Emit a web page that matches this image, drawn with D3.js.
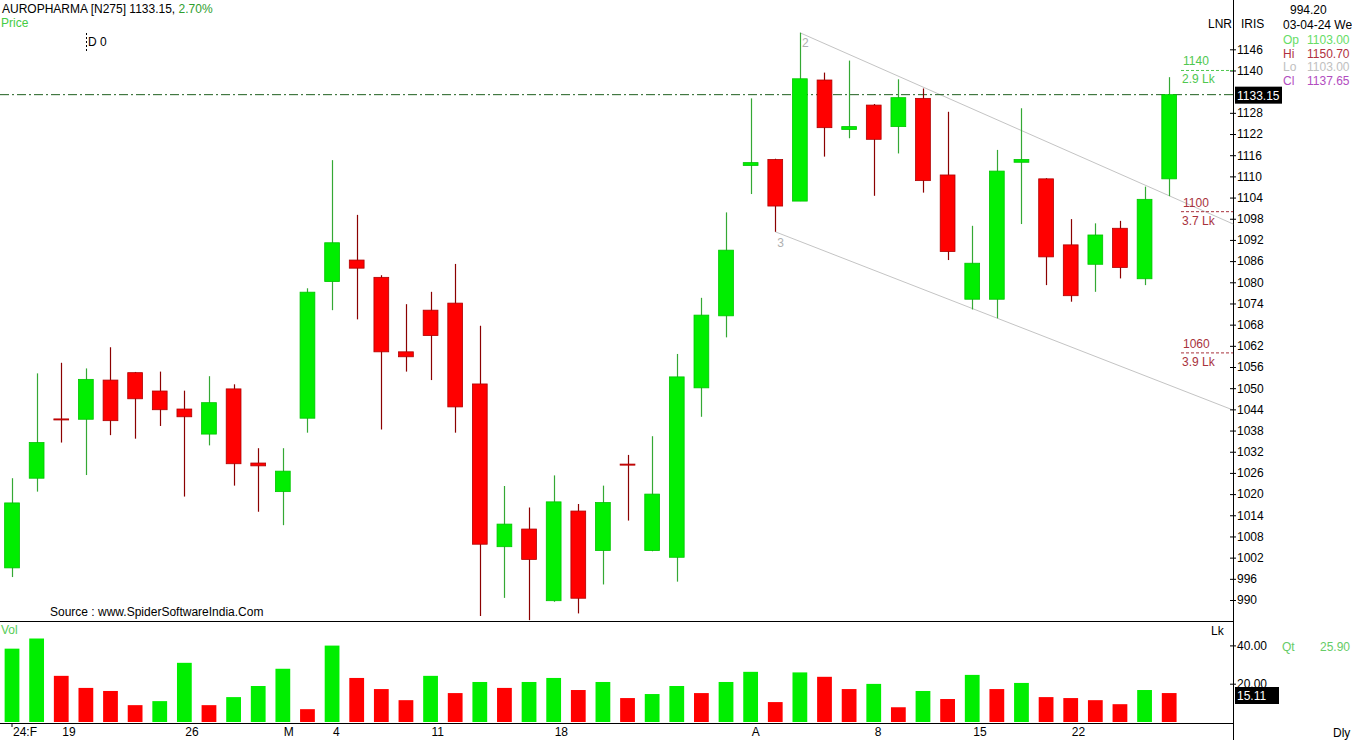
<!DOCTYPE html>
<html><head><meta charset="utf-8">
<script src="https://cdn.jsdelivr.net/npm/d3@7"></script>
<style>
html,body{margin:0;padding:0;background:#fff;overflow:hidden}
svg text{font-family:"Liberation Sans",Arial,sans-serif;font-size:12px}
</style>
</head><body><svg id="c" width="1352" height="740"></svg>
<script>
const dates=["2024-02-15","2024-02-16","2024-02-19","2024-02-20","2024-02-21","2024-02-22","2024-02-23","2024-02-26","2024-02-27","2024-02-28","2024-02-29","2024-03-01","2024-03-02","2024-03-04","2024-03-05","2024-03-06","2024-03-07","2024-03-11","2024-03-12","2024-03-13","2024-03-14","2024-03-15","2024-03-18","2024-03-19","2024-03-20","2024-03-21","2024-03-22","2024-03-26","2024-03-27","2024-03-28","2024-04-01","2024-04-02","2024-04-03","2024-04-04","2024-04-05","2024-04-08","2024-04-09","2024-04-10","2024-04-12","2024-04-15","2024-04-16","2024-04-18","2024-04-19","2024-04-22","2024-04-23","2024-04-24","2024-04-25","2024-04-26"];
const open =[999.1,1024.5,1041.3,1041.2,1052.3,1054.4,1049.2,1044.1,1037.0,1049.8,1028.8,1020.7,1041.5,1080.2,1086.3,1081.4,1060.3,1072.1,1074.1,1051.2,1005.1,1010.1,989.8,1015.2,1004.0,1028.5,1004.0,1002.1,1050.1,1070.5,1113.1,1114.8,1103.0,1137.3,1123.3,1130.2,1124.1,1132.1,1110.4,1075.2,1075.2,1114.0,1109.3,1090.6,1085.1,1095.3,1081.0,1109.3];
const high =[1024.5,1054.2,1057.2,1055.6,1061.6,1054.6,1054.7,1049.3,1053.4,1051.1,1033.0,1033.0,1078.3,1114.6,1099.1,1082.0,1073.8,1077.3,1085.2,1067.7,1022.3,1016.2,1025.3,1017.2,1022.4,1031.1,1036.4,1059.7,1075.6,1099.8,1132.1,1115.0,1150.7,1139.4,1142.8,1130.5,1137.5,1134.9,1128.3,1096.0,1117.5,1129.3,1109.5,1097.9,1096.7,1097.4,1107.1,1138.1];
const low  =[996.5,1020.7,1034.6,1025.4,1036.7,1035.7,1039.3,1019.3,1033.8,1022.4,1015.0,1011.2,1037.4,1072.1,1069.5,1038.3,1054.7,1052.3,1037.4,985.5,990.6,984.3,989.5,986.2,994.4,1012.5,1003.8,995.2,1041.9,1064.4,1105.0,1094.3,1103.0,1115.6,1120.8,1104.5,1116.5,1105.4,1086.3,1072.3,1069.8,1096.5,1079.2,1074.5,1077.3,1081.1,1079.2,1104.4];
const close=[1017.5,1034.6,1041.0,1052.5,1040.8,1047.0,1043.9,1041.9,1045.9,1028.6,1028.0,1026.5,1077.2,1091.2,1084.0,1060.3,1058.9,1064.9,1044.7,1005.8,1011.5,1001.5,1017.8,990.5,1017.6,1028.2,1020.0,1053.2,1070.7,1089.1,1113.9,1101.6,1137.65,1123.8,1124.1,1120.5,1132.3,1108.8,1088.7,1085.4,1111.5,1114.8,1087.2,1076.2,1093.4,1084.2,1103.5,1133.15];
const volume=[38.3,43.6,24.1,17.8,16.2,8.8,10.9,30.9,8.8,13.0,18.8,27.8,6.7,39.9,23.0,17.2,11.4,24.1,15.1,20.9,17.8,20.9,23.0,16.7,20.9,12.5,14.6,18.8,15.1,20.9,26.2,10.4,25.9,23.6,17.2,19.9,7.7,16.2,12.0,24.6,17.2,20.4,13.0,12.5,11.4,9.3,16.7,15.11];
const volumeUp=[1,1,0,0,0,0,1,1,0,1,1,1,0,1,0,0,0,1,0,1,0,1,1,0,1,0,1,1,0,1,1,0,1,0,0,1,0,1,0,1,0,1,0,0,0,0,1,0];
const priceTicks=[990,996,1002,1008,1014,1020,1026,1032,1038,1044,1050,1056,1062,1068,1074,1080,1086,1092,1098,1104,1110,1116,1122,1128,1140,1146];
const volumeTicks=[20,40];
const tickDates=["2024-02-15","2024-02-19","2024-02-26","2024-03-01","2024-03-04","2024-03-11","2024-03-18","2024-04-01","2024-04-08","2024-04-15","2024-04-22"];
const tickLabels=["24:F","19","26","M","4","11","18","A","8","15","22"];
const levelPrices=[1140,1100,1060];
const levelQty=["2.9 Lk","3.7 Lk","3.9 Lk"];
const levelUp=[1,0,0];
const channelUpper=[{i:32,p:1150.7},{i:49.6,p:1096.5}];
const channelLower=[{i:31,p:1094.3},{i:49.6,p:1043.8}];
const lastPrice=1133.15;

const svg=d3.select("#c");
const AX=1233;
const n=dates.length;
const x=d3.scaleBand().domain(dates).range([-0.3,1181.5]).paddingInner(0.4).paddingOuter(0.2);
const bw=x.bandwidth();
const cx=d=>x(d)+bw/2;
const xi=d3.scaleLinear().domain([0,n-1]).range([cx(dates[0]),cx(dates[n-1])]);
const y=d3.scaleLinear().domain([990,1146]).range([600,49.3]);
const yv=d3.scaleLinear().domain([0,40]).range([722,645.4]);

const G_FILL="#00ee00",G_STROKE="#00c400",G_WICK="#34a834";
const R_FILL="#ff0000",R_STROKE="#b00000",R_WICK="#8b0000";

// pane separators
svg.append("line").attr("x1",0).attr("x2",AX).attr("y1",621.5).attr("y2",621.5).attr("stroke","#000");
svg.append("line").attr("x1",0).attr("x2",AX).attr("y1",723.5).attr("y2",723.5).attr("stroke","#000");
svg.append("line").attr("x1",AX+0.5).attr("x2",AX+0.5).attr("y1",0).attr("y2",740).attr("stroke","#000");

// channel lines
const line=d3.line().x(d=>xi(d.i)).y(d=>y(d.p));
[channelUpper,channelLower].forEach(c=>{
  svg.append("path").attr("d",line(c)).attr("fill","none").attr("stroke","#c4c4c4").attr("stroke-width",1);
});
svg.append("text").attr("x",xi(channelUpper[0].i)+2).attr("y",y(channelUpper[0].p)+14).attr("fill","#b0b0b0").text("2");
svg.append("text").attr("x",xi(channelLower[0].i)+2).attr("y",y(channelLower[0].p)+15).attr("fill","#b0b0b0").text("3");

// last price line
svg.append("line").attr("x1",0).attr("x2",AX).attr("y1",y(lastPrice)).attr("y2",y(lastPrice))
  .attr("stroke","#1f5f1f").attr("stroke-width",1).attr("stroke-dasharray","9,3,2,3");

// candles
const idx=d3.range(n);
const cg=svg.append("g");
cg.selectAll("line.w").data(idx).join("line")
  .attr("x1",i=>Math.round(cx(dates[i]))+0.5).attr("x2",i=>Math.round(cx(dates[i]))+0.5)
  .attr("y1",i=>y(high[i])).attr("y2",i=>y(low[i]))
  .attr("stroke",i=>close[i]>=open[i]?G_WICK:R_WICK).attr("stroke-width",1.2);
cg.selectAll("rect.b").data(idx).join("rect")
  .attr("x",i=>x(dates[i])).attr("width",bw)
  .attr("y",i=>y(Math.max(open[i],close[i])))
  .attr("height",i=>Math.max(1,Math.abs(y(open[i])-y(close[i]))))
  .attr("fill",i=>close[i]>=open[i]?G_FILL:R_FILL)
  .attr("stroke",i=>close[i]>=open[i]?G_STROKE:R_STROKE).attr("stroke-width",0.8);

// volume bars
svg.append("g").selectAll("rect").data(idx).join("rect")
  .attr("x",i=>x(dates[i])).attr("width",bw)
  .attr("y",i=>yv(volume[i])).attr("height",i=>yv(0)-yv(volume[i]))
  .attr("fill",i=>volumeUp[i]?G_FILL:R_FILL);

// price axis
const pa=svg.append("g").attr("transform",`translate(${AX},0)`)
  .call(d3.axisRight(y).tickValues(priceTicks).tickSize(3).tickPadding(1).tickFormat(d3.format("d")));
pa.select(".domain").remove();
pa.selectAll(".tick line").attr("x1",-3).attr("x2",3).attr("stroke","#000");
pa.selectAll(".tick text").attr("fill","#000").style("font-size","12px").attr("font-family",null);

// volume axis
const va=svg.append("g").attr("transform",`translate(${AX},0)`)
  .call(d3.axisRight(yv).tickValues(volumeTicks).tickSize(3).tickPadding(1).tickFormat(d3.format(".2f")));
va.select(".domain").remove();
va.selectAll(".tick line").attr("x1",-3).attr("x2",3).attr("stroke","#000");
va.selectAll(".tick text").attr("fill","#000").style("font-size","12px").attr("font-family",null);

// x labels
tickDates.forEach((d,k)=>{
  svg.append("text").attr("x",cx(d)+1).attr("y",736).attr("fill","#000").text(tickLabels[k]);
});
svg.append("line").attr("x1",cx(dates[0])).attr("x2",cx(dates[0])).attr("y1",723).attr("y2",727).attr("stroke","#000");

// level markers
levelPrices.forEach((p,k)=>{
  const col=levelUp[k]?"#4fc84f":"#a8323c";
  svg.append("line").attr("x1",1181).attr("x2",AX).attr("y1",y(p)).attr("y2",y(p))
    .attr("stroke",col).attr("stroke-dasharray","3,2");
  svg.append("text").attr("x",1183).attr("y",y(p)-5).attr("fill",col).text(p);
  svg.append("text").attr("x",1182).attr("y",y(p)+13).attr("fill",col).text(levelQty[k]);
});

// last price box
svg.append("rect").attr("x",1235).attr("y",y(lastPrice)-8).attr("width",47).attr("height",17).attr("fill","#000");
svg.append("text").attr("x",1237).attr("y",y(lastPrice)+5).attr("fill","#fff").text("1133.15");
// last volume box
svg.append("rect").attr("x",1235).attr("y",687).attr("width",44).attr("height",17).attr("fill","#000");
svg.append("text").attr("x",1237).attr("y",700).attr("fill","#fff").text(d3.format(".2f")(volume[n-1]));

// header
const h=svg.append("text").attr("x",2).attr("y",13).attr("fill","#000");
h.append("tspan").text("AUROPHARMA [N275] 1133.15,  ");
h.append("tspan").attr("fill","#2e9e2e").text("2.70%");
svg.append("text").attr("x",1).attr("y",27).attr("fill","#44cc44").text("Price");
svg.append("line").attr("x1",86.5).attr("x2",86.5).attr("y1",33).attr("y2",51).attr("stroke","#000").attr("stroke-dasharray","2,2");
svg.append("text").attr("x",88).attr("y",46).attr("fill","#000").text("D 0");
svg.append("text").attr("x",50).attr("y",616).attr("fill","#000").text("Source : www.SpiderSoftwareIndia.Com");
svg.append("text").attr("x",1).attr("y",634).attr("fill","#55cc55").text("Vol");
svg.append("text").attr("x",1211).attr("y",635).attr("fill","#000").text("Lk");

// right info
svg.append("text").attr("x",1290).attr("y",14).attr("fill","#000").text("994.20");
svg.append("text").attr("x",1208).attr("y",28).attr("fill","#000").text("LNR");
svg.append("text").attr("x",1241).attr("y",28).attr("fill","#000").text("IRIS");
svg.append("text").attr("x",1283).attr("y",29).attr("fill","#000").text("03-04-24 We");
const leg=[["Op","1103.00","#66dd66"],["Hi","1150.70","#b03040"],["Lo","1103.00","#c0c0c0"],["Cl","1137.65","#b24cc0"]];
leg.forEach((r,k)=>{
  svg.append("text").attr("x",1283).attr("y",44+k*13.7).attr("fill",r[2]).text(r[0]);
  svg.append("text").attr("x",1307).attr("y",44+k*13.7).attr("fill",r[2]).text(r[1]);
});
svg.append("text").attr("x",1282).attr("y",651).attr("fill","#66cc66").text("Qt");
svg.append("text").attr("x",1320).attr("y",651).attr("fill","#66cc66").text("25.90");
svg.append("text").attr("x",1333).attr("y",737).attr("fill","#000").text("Dly");
</script></body></html>
